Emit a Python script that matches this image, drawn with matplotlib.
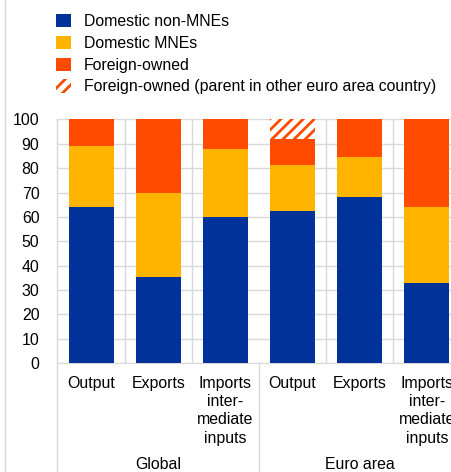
import matplotlib.pyplot as plt
from matplotlib.patches import Patch
from matplotlib.lines import Line2D
import numpy as np

plt.rcParams['font.family'] = ['Liberation Sans', 'DejaVu Sans']
plt.rcParams['hatch.linewidth'] = 2.0

categories = ['Output', 'Exports', 'Imports\ninter-\nmediate\ninputs',
              'Output', 'Exports', 'Imports\ninter-\nmediate\ninputs']
groups = ['Global', 'Euro area']

domestic_non_mne = [64, 35.5, 60, 62.5, 68, 33]
domestic_mne = [25, 34.5, 28, 18.8, 16.5, 31]
foreign_owned = [11, 30, 12, 10.8, 15.5, 36]
foreign_euro_parent = [0, 0, 0, 7.9, 0, 0]

series_labels = ['Domestic non-MNEs', 'Domestic MNEs', 'Foreign-owned',
                 'Foreign-owned (parent in other euro area country)']

BLUE = '#003299'
YELLOW = '#FFB400'
ORANGE = '#FF4B00'
GRID = '#D9D9D9'
FS = 11.4

W, H = 452, 472
fig = plt.figure(figsize=(W / 100, H / 100), dpi=100)
# axes runs off the right edge on purpose, last bar is cut
ax = fig.add_axes([57.5 / W, 109 / H, 403 / W, 243.5 / H])

x = np.arange(len(categories))
bw = 0.67
b1 = np.array(domestic_non_mne)
b2 = b1 + np.array(domestic_mne)
b3 = b2 + np.array(foreign_owned)

ax.bar(x, domestic_non_mne, bw, color=BLUE, zorder=3)
ax.bar(x, domestic_mne, bw, bottom=b1, color=YELLOW, zorder=3)
ax.bar(x, foreign_owned, bw, bottom=b2, color=ORANGE, zorder=3)
ax.bar(x, foreign_euro_parent, bw, bottom=b3, facecolor='white',
       edgecolor=ORANGE, linewidth=0, hatch='///', zorder=3)

ax.set_xlim(-0.5, 5.5)
ax.set_ylim(0, 100)
ax.set_yticks(range(0, 101, 10))
ax.tick_params(axis='y', length=0, labelsize=FS, pad=13)
ax.set_xticks([])
ax.grid(axis='y', color=GRID, linewidth=1, zorder=0)
for xv in [0.5, 1.5, 3.5, 4.5]:
    ax.axvline(xv, color=GRID, linewidth=1, zorder=0)
for s in ['top', 'right', 'left']:
    ax.spines[s].set_visible(False)
ax.spines['bottom'].set_color(GRID)

# category labels and group labels under the axis
for xi, lab in zip(x, categories):
    ax.text(xi, -0.052, lab, transform=ax.get_xaxis_transform(), ha='center',
            va='top', fontsize=FS, linespacing=1.28)
for gi, g in enumerate(groups):
    ax.text(1 + 3 * gi, -0.388, g, transform=ax.get_xaxis_transform(),
            ha='center', va='top', fontsize=FS)

# separators running down from the plot to the figure bottom
for xv in [-0.5, 2.5]:
    ax.add_line(Line2D([xv, xv], [-0.46, 1 if xv < 0 else 0],
                       transform=ax.get_xaxis_transform(), color=GRID,
                       linewidth=1, clip_on=False, zorder=1))

fig.add_artist(Line2D([5 / W, 5 / W], [0, 1], color=GRID, linewidth=1))

handles = [Patch(facecolor=BLUE), Patch(facecolor=YELLOW), Patch(facecolor=ORANGE),
           Patch(facecolor='white', edgecolor=ORANGE, linewidth=0, hatch='///')]
fig.legend(handles, series_labels, loc='upper left',
           bbox_to_anchor=(50 / W, 1 - 8 / H), frameon=False, fontsize=FS,
           handlelength=0.9, handleheight=0.9, handletextpad=0.85,
           labelspacing=0.42, borderaxespad=0)

fig.savefig('out.png', dpi=100)
